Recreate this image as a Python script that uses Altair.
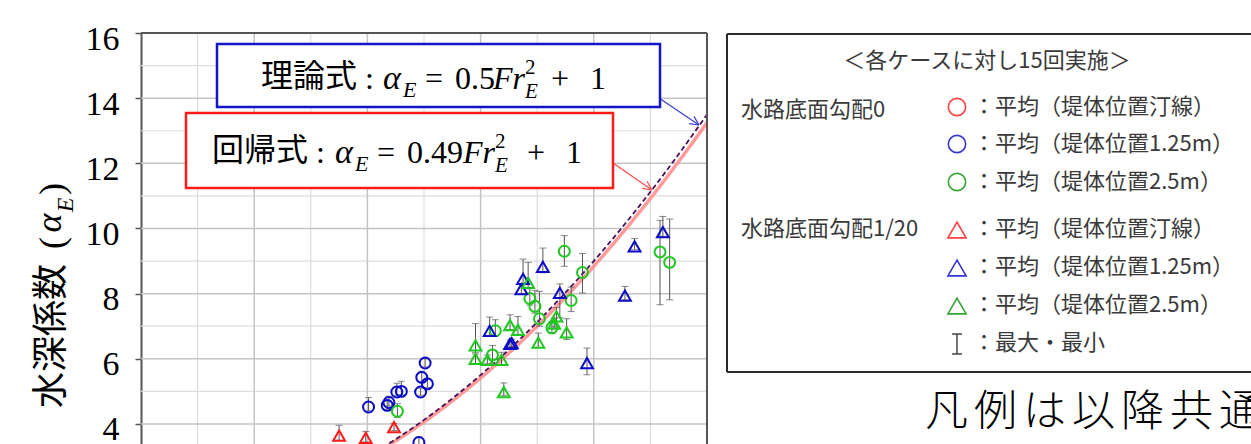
import math

import altair as alt
import pandas as pd

# ---- measured depth coefficient alpha_E against Froude number Fr_E ----
# (mean of 15 runs, with minimum and maximum)

# bed slope 0, levee at 1.25 m (blue circles)
s0_125_fr = [2.01, 2.175, 2.19, 2.26, 2.30, 2.47, 2.48, 2.53, 2.51, 2.455]
s0_125_mean = [4.52, 4.57, 4.66, 4.98, 5.00, 4.98, 5.43, 5.23, 5.87, 3.43]
s0_125_min = [4.40, 4.45, 4.55, 4.88, 4.90, 4.88, 5.30, 5.12, 5.75, 3.30]
s0_125_max = [4.81, 4.70, 4.85, 5.25, 5.31, 5.10, 5.62, 5.40, 6.00, 3.60]

# bed slope 0, levee at 2.5 m (green circles)
s0_25_fr = [2.265, 3.105, 3.13, 3.435, 3.48, 3.52, 3.63, 3.74, 3.80, 3.90, 4.585, 4.67]
s0_25_mean = [4.39, 6.12, 6.86, 7.85, 7.61, 7.23, 6.95, 9.30, 7.79, 8.65, 9.28, 8.96]
s0_25_min = [4.20, 5.87, 6.70, 7.65, 7.40, 7.00, 6.78, 8.84, 7.45, 8.02, 7.66, 7.81]
s0_25_max = [4.62, 6.41, 7.20, 8.18, 8.10, 8.07, 7.15, 9.78, 8.20, 9.23, 10.25, 10.29]

# bed slope 1/20, levee at shoreline (red triangles)
s20_sh_fr = [1.75, 1.985, 2.235]
s20_sh_mean = [3.64, 3.57, 3.90]
s20_sh_min = [3.50, 3.45, 3.80]
s20_sh_max = [3.96, 3.77, 4.02]

# bed slope 1/20, levee at 1.25 m (blue triangles)
s20_125_fr = [3.08, 3.26, 3.275, 3.375, 3.36, 3.55, 3.70, 3.94, 4.275, 4.36, 4.61]
s20_125_mean = [6.86, 6.46, 6.48, 8.45, 8.14, 8.82, 8.02, 5.87, 7.94, 9.45, 9.89]
s20_125_min = [6.70, 6.35, 6.37, 8.30, 8.00, 8.64, 7.26, 5.51, 7.81, 9.35, 9.76]
s20_125_max = [7.28, 6.58, 6.60, 9.06, 8.30, 9.40, 8.30, 6.33, 8.22, 9.69, 10.37]

# bed slope 1/20, levee at 2.5 m (green triangles)
s20_25_fr = [2.955, 2.955, 3.06, 3.185, 3.205, 3.26, 3.33, 3.42, 3.51, 3.67, 3.65, 3.76]
s20_25_mean = [6.41, 6.00, 5.97, 5.97, 4.98, 7.03, 6.89, 8.33, 6.50, 7.30, 7.08, 6.81]
s20_25_min = [6.20, 5.85, 5.85, 5.80, 4.88, 6.90, 6.75, 8.15, 6.35, 7.00, 6.95, 6.59]
s20_25_max = [7.08, 6.15, 6.12, 6.20, 5.26, 7.35, 7.30, 8.96, 6.79, 7.57, 7.25, 7.23]

# alpha_E = c * Fr_E^2 + 1
coef_theory = 0.5
coef_fit = 0.49

# axis ticks and grid
y_ticks = [4, 6, 8, 10, 12, 14, 16]
x_grid_major = [1, 2, 3, 4]
x_grid_minor = [0.5, 1.5, 2.5, 3.5, 4.5]
y_grid_major = [4, 6, 8, 10, 12, 14]
y_grid_minor = [5, 7, 9, 11, 13, 15]

# ---- layout ----
OX, OY = 141, 33          # plot origin in the page
W, H = 566, 411           # plot area
X_DOMAIN = [0, 5]
Y_DOMAIN = [3.385, 16]
SERIF = "Liberation Serif"
SANS = "Noto Sans CJK JP"

C_RED, C_BLUE, C_GREEN = "#ff1a1a", "#0a0ac8", "#1ec81e"


def table(fr, mean, lo, hi, series):
    return pd.DataFrame({"fr": fr, "a": mean, "lo": lo, "hi": hi, "series": series})


circles = pd.concat([
    table(s0_125_fr, s0_125_mean, s0_125_min, s0_125_max, "blue"),
    table(s0_25_fr, s0_25_mean, s0_25_min, s0_25_max, "green"),
])
triangles = pd.concat([
    table(s20_sh_fr, s20_sh_mean, s20_sh_min, s20_sh_max, "red"),
    table(s20_125_fr, s20_125_mean, s20_125_min, s20_125_max, "blue"),
    table(s20_25_fr, s20_25_mean, s20_25_min, s20_25_max, "green"),
])
points = pd.concat([circles, triangles])

xs = alt.Scale(domain=X_DOMAIN, nice=False, zero=False)
ys = alt.Scale(domain=Y_DOMAIN, nice=False, zero=False)
yaxis = alt.Axis(values=y_ticks, title=None, grid=False, labelFont=SERIF, labelFontSize=34,
                 labelColor="black", tickSize=6, tickColor="#555555", tickWidth=1.5,
                 domainColor="#555555", domainWidth=2, labelPadding=16,
                 labelBaseline="middle", labelOffset=6)
col = alt.Color("series:N", scale=alt.Scale(domain=["red", "blue", "green"],
                                            range=[C_RED, C_BLUE, C_GREEN]), legend=None)
X = alt.X("fr:Q", scale=xs, axis=None)


def Y(field):
    return alt.Y(field, scale=ys, axis=yaxis)


one = pd.DataFrame({"k": [0]})


def px(v):
    return alt.value(v - OX)


def py(v):
    return alt.value(v - OY)


def text(t, x, y, size, font=SERIF, style="normal", weight="normal", color="black",
         align="left", baseline="alphabetic", angle=0):
    return alt.Chart(one).mark_text(
        text=t, font=font, fontSize=size, fontStyle=style, fontWeight=weight,
        color=color, align=align, baseline=baseline, angle=angle
    ).encode(x=px(x), y=py(y))


def seg(x1, y1, x2, y2, color, width=1.2):
    return alt.Chart(one).mark_rule(color=color, strokeWidth=width).encode(
        x=px(x1), x2=px(x2), y=py(y1), y2=py(y2))


def box(x1, y1, x2, y2, color):
    return alt.Chart(one).mark_rect(fill="white", stroke=color, strokeWidth=2.5).encode(
        x=px(x1), x2=px(x2), y=py(y1), y2=py(y2))


def arrow(x1, y1, x2, y2, color):
    ang = math.atan2(y2 - y1, x2 - x1)
    parts = [seg(x1, y1, x2, y2, color)]
    for d in (0.45, -0.45):
        parts.append(seg(x2, y2, x2 - 10 * math.cos(ang + d), y2 - 10 * math.sin(ang + d), color))
    return parts


# ---- grid ----
grid = [
    alt.Chart(pd.DataFrame({"v": x_grid_minor})).mark_rule(color="#dedede", strokeWidth=1.2)
    .encode(x=alt.X("v:Q", scale=xs, axis=None)),
    alt.Chart(pd.DataFrame({"v": y_grid_minor})).mark_rule(color="#dedede", strokeWidth=1.2)
    .encode(y=Y("v:Q")),
    alt.Chart(pd.DataFrame({"v": x_grid_major})).mark_rule(color="#c4c4c4", strokeWidth=1.5)
    .encode(x=alt.X("v:Q", scale=xs, axis=None)),
    alt.Chart(pd.DataFrame({"v": y_grid_major})).mark_rule(color="#c4c4c4", strokeWidth=1.5)
    .encode(y=Y("v:Q")),
]

# ---- curves ----
curve = alt.Chart(alt.sequence(0, 5.02, 0.02, as_="fr")).transform_calculate(
    fit=f"{coef_fit} * datum.fr * datum.fr + 1",
    theory=f"{coef_theory} * datum.fr * datum.fr + 1",
)
fit_line = curve.mark_line(color="#ff8a8a", strokeWidth=3.5, opacity=0.85, clip=True).encode(
    x=X, y=Y("fit:Q"))
theory_line = curve.mark_line(color="#4a0f55", strokeWidth=1.8, strokeDash=[5, 3], clip=True).encode(
    x=X, y=Y("theory:Q"))

# ---- measurements ----
base = alt.Chart(points)
bars = base.mark_rule(color="#555555", strokeWidth=1, clip=True).encode(
    x=X, y=Y("lo:Q"), y2="hi:Q")
cap_hi = base.mark_tick(orient="horizontal", size=7, thickness=1, color="#555555", clip=True).encode(
    x=X, y=Y("hi:Q"))
cap_lo = base.mark_tick(orient="horizontal", size=7, thickness=1, color="#555555", clip=True).encode(
    x=X, y=Y("lo:Q"))

circ = alt.Chart(circles).mark_point(shape="circle", size=120, filled=False, strokeWidth=2,
                                     opacity=1, clip=True).encode(
    x=X, y=Y("a:Q"), color=col)
tri = alt.Chart(triangles).mark_point(shape="triangle-up", size=140, filled=False, strokeWidth=2,
                                      opacity=1, clip=True).encode(
    x=X, y=Y("a:Q"), color=col)

# ---- frame ----
frame = [
    alt.Chart(one).mark_rule(color="#555555", strokeWidth=2).encode(
        x=alt.value(0), x2=alt.value(W), y=alt.value(0)),
    alt.Chart(one).mark_rule(color="#555555", strokeWidth=2).encode(
        x=alt.value(W), y=alt.value(0), y2=alt.value(H)),
]

# ---- y title: 水深係数 (α_E) ----
ytitle = [
    text("水深係数", 52, 336, 36, font=SANS, align="center", baseline="middle", angle=270),
    text("(", 53, 243, 36, align="center", baseline="middle", angle=270),
    text("α", 50, 223, 36, style="italic", align="center", baseline="middle", angle=270),
    text("E", 66, 205, 24, style="italic", align="center", baseline="middle", angle=270),
    text(")", 53, 189, 36, align="center", baseline="middle", angle=270),
]

# ---- equation call-outs ----
BLUE_BOX, RED_BOX = "#1414c8", "#ff1a1a"
callouts = (
    arrow(659, 98, 699, 125, "#3a3ad8")
    + arrow(613, 163, 652, 190, "#ff4a4a")
    + [
        box(217, 44, 660, 107, BLUE_BOX),
        text("理論式", 261, 77, 32, font=SANS, baseline="middle"),
        text(":", 365, 89, 32),
        text("α", 383, 89, 34, style="italic"),
        text("E", 403, 97, 22, style="italic"),
        text("=", 425, 89, 32),
        text("0.5", 455, 89, 32),
        text("Fr", 493, 89, 32, style="italic"),
        text("2", 525, 74, 21),
        text("E", 525, 98, 21, style="italic"),
        text("+", 551, 89, 32),
        text("1", 590, 89, 32),
        box(186, 113, 613, 188, RED_BOX),
        text("回帰式", 212, 151, 32, font=SANS, baseline="middle"),
        text(":", 316, 163, 32),
        text("α", 335, 163, 34, style="italic"),
        text("E", 355, 171, 22, style="italic"),
        text("=", 377, 163, 32),
        text("0.49", 407, 163, 32),
        text("Fr", 463, 163, 32, style="italic"),
        text("2", 495, 148, 21),
        text("E", 495, 172, 21, style="italic"),
        text("+", 527, 163, 32),
        text("1", 566, 163, 32),
    ]
)

# ---- legend panel ----
LG = "#3a3a3a"
LX = 957
LF = 22
rows_y = [107, 144, 182, 229, 267, 305]
row_shapes = ["circle", "circle", "circle", "triangle-up", "triangle-up", "triangle-up"]
row_colors = ["#ff4040", "#3535d5", "#35a535", "#ff4040", "#3535d5", "#35a535"]
row_texts = ["：平均（堤体位置汀線）", "：平均（堤体位置1.25m）", "：平均（堤体位置2.5m）"] * 2

legend = [
    seg(727, 34, 1262, 34, "#2a2a2a", 2),
    seg(727, 34, 727, 372, "#2a2a2a", 2),
    seg(727, 372, 1262, 372, "#2a2a2a", 2),
    text("＜各ケースに対し15回実施＞", 987, 61, LF, font=SANS, color=LG, align="center", baseline="middle"),
    text("水路底面勾配0", 741, 110, LF, font=SANS, color=LG, baseline="middle"),
    text("水路底面勾配1/20", 741, 229, LF, font=SANS, color=LG, baseline="middle"),
]
for yy, shp, cc, tt in zip(rows_y, row_shapes, row_colors, row_texts):
    legend.append(alt.Chart(one).mark_point(
        shape=shp, size=300 if shp == "circle" else 330, filled=False, strokeWidth=1.6,
        color=cc, opacity=1).encode(x=px(LX), y=py(yy + (1 if shp != "circle" else 0))))
    legend.append(text(tt, 973, yy, LF, font=SANS, color=LG, baseline="middle"))
legend += [
    seg(LX, 334, LX, 354, "#444444", 1.5),
    seg(LX - 5, 334, LX + 5, 334, "#444444", 1.5),
    seg(LX - 5, 354, LX + 5, 354, "#444444", 1.5),
    text("：最大・最小", 973, 343, LF, font=SANS, color=LG, baseline="middle"),
]

# note below the legend, one glyph per cell
note = "凡例は以降共通"
for i, ch in enumerate(note):
    legend.append(text(ch, 925 + 49 * i, 413, 43, font=SANS, weight=300,
                       baseline="middle"))

chart = alt.layer(
    *grid, fit_line, theory_line, bars, cap_hi, cap_lo, circ, tri, *frame,
    *ytitle, *callouts, *legend
).properties(
    width=W, height=H,
    autosize=alt.AutoSizeParams(type="none"),
    padding={"left": OX, "top": OY, "right": 1251 - OX - W, "bottom": 444 - OY - H},
    background="white",
).configure_view(stroke=None)

chart.save("out.html", embed_options={"renderer": "svg", "actions": False})
